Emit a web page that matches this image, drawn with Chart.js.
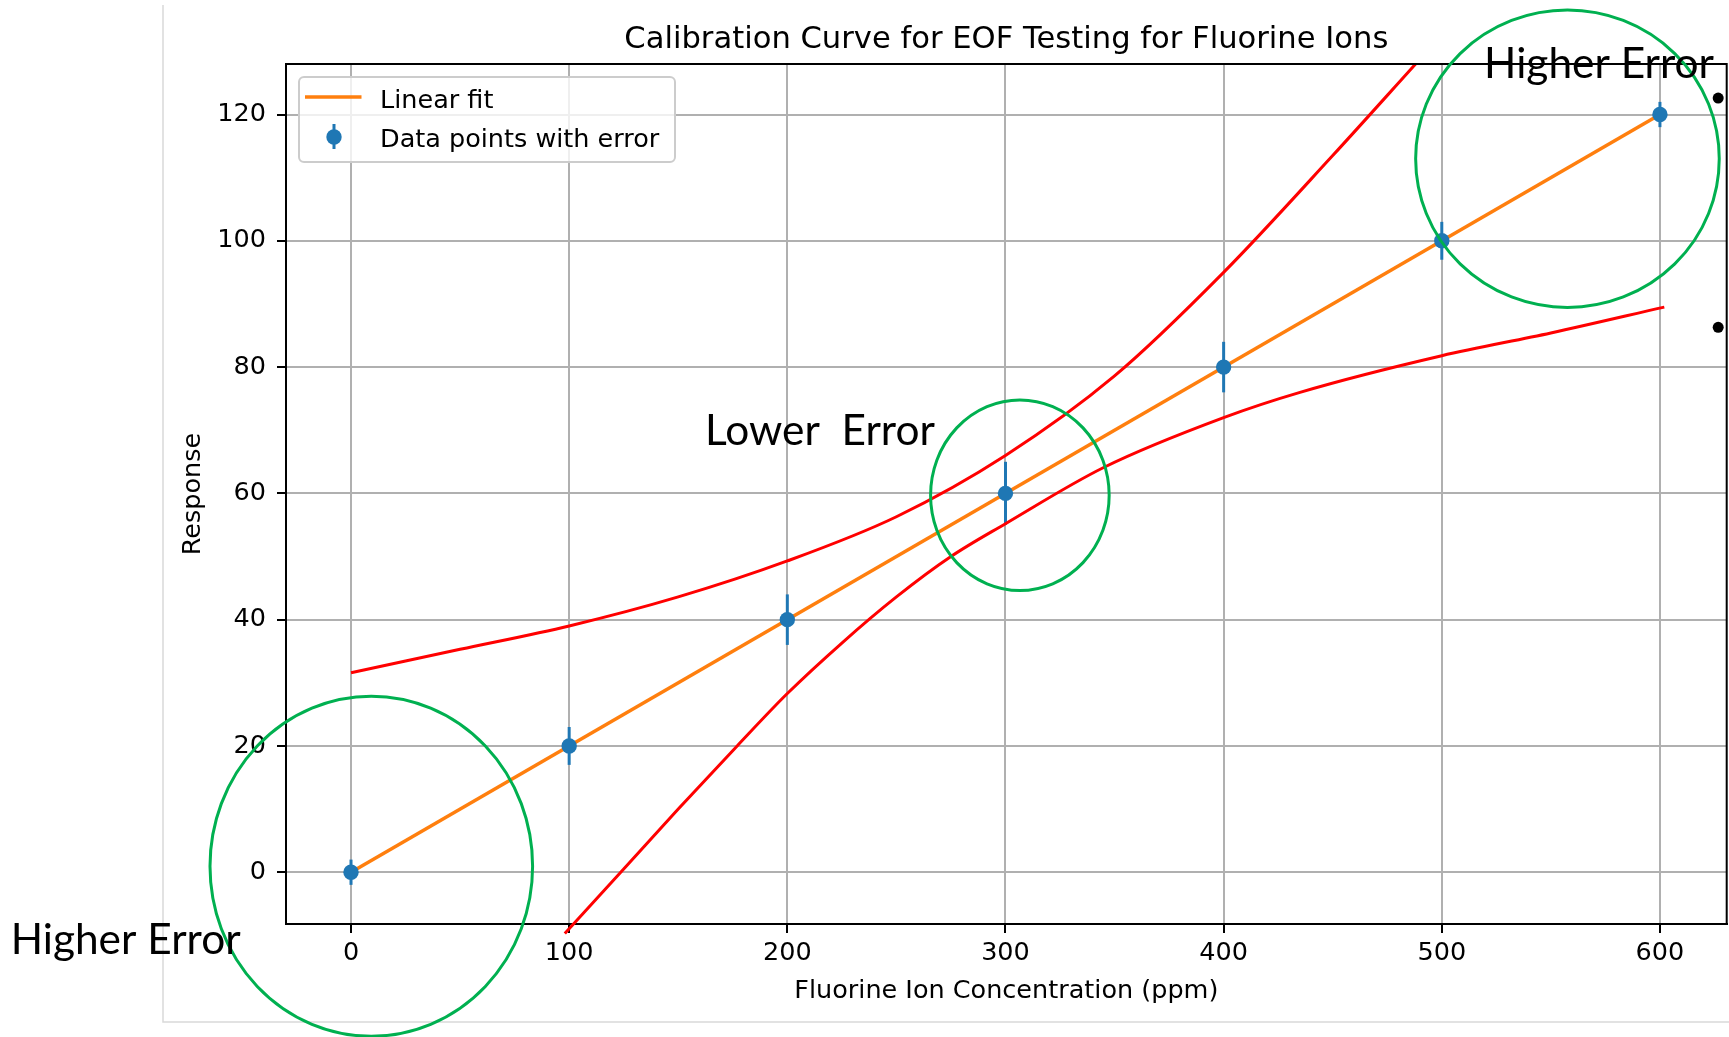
<!DOCTYPE html>
<html>
<head>
<meta charset="utf-8">
<title>Calibration Curve for EOF Testing for Fluorine Ions</title>
<script src="https://cdn.jsdelivr.net/npm/chart.js@4.4.1/dist/chart.umd.min.js"></script>
<style>
  html, body { margin: 0; padding: 0; background: #fff; overflow: hidden; }
  #wrap { width: 1729px; height: 1037px; }
</style>
</head>
<body>
<div id="wrap"><canvas id="chart" width="1729" height="1037"></canvas></div>
<script>
'use strict';

// ── Data ──────────────────────────────────────────────────────────────────────
const concentration = [0, 100, 200, 300, 400, 500, 600];      // ppm
const response      = [0, 20, 40, 60, 80, 100, 120];
const responseErr   = [2, 3, 4, 5, 4, 3, 2];

const fitX = [0, 600];
const fitY = [0, 120];

// hand-drawn red envelope curves
const upperX = [0, 50, 100, 150, 200, 250, 300, 350, 400, 450, 488];
const upperY = [31.6, 35.3, 39.0, 43.6, 49.3, 56.3, 66.0, 78.6, 95.0, 113.5, 128.0];
const lowerX = [98, 125, 150, 177, 200, 225, 250, 275, 300, 345, 400, 435, 500, 550, 602];
const lowerY = [-9.7, 0.5, 10.0, 20.0, 28.3, 36.3, 43.6, 50.0, 55.2, 64.1, 72.0, 76.0, 81.8, 85.4, 89.5];

// green circle centres and note anchors (data units)
const circleX = [9.3, 306.6, 557.6];
const circleY = [0.95, 59.7, 113.0];
const noteText = ['Higher Error', 'Lower  Error', 'Higher Error'];
const noteX = [-156, 162.3, 519.4];
const noteY = [-13.0, 67.6, 125.8];

// stray bullet points at the right edge
const bulletX = [626.7, 626.7];
const bulletY = [122.6, 86.3];

const xTicks = [0, 100, 200, 300, 400, 500, 600];
const yTicks = [0, 20, 40, 60, 80, 100, 120];

const TITLE  = 'Calibration Curve for EOF Testing for Fluorine Ions';
const XLABEL = 'Fluorine Ion Concentration (ppm)';
const YLABEL = 'Response';

// ── Style ─────────────────────────────────────────────────────────────────────
const BLUE   = '#1f77b4';
const ORANGE = '#ff7f0e';
const RED    = '#ff0000';
const GREEN  = '#00b050';
const FONT   = "'DejaVu Sans', sans-serif";
const FS     = 25.5;
const circleR = [[161.3, 170], [89.3, 95.3], [151.8, 148.7]];

const pts = (xs, ys) => xs.map((x, i) => ({ x, y: ys[i] }));

// ── Plugins ───────────────────────────────────────────────────────────────────
const pageFrame = {
  id: 'pageFrame',
  beforeDraw(chart) {
    const { ctx, width, height } = chart;
    ctx.save();
    ctx.strokeStyle = '#d9d9d9';
    ctx.lineWidth = 1.5;
    ctx.beginPath();
    ctx.moveTo(163, 5);
    ctx.lineTo(163, height - 15);
    ctx.lineTo(width, height - 15);
    ctx.stroke();
    ctx.restore();
  }
};

const errorBars = {
  id: 'errorBars',
  beforeDatasetDraw(chart, args) {
    if (args.index !== 1) return;
    const { ctx, scales: { x, y } } = chart;
    ctx.save();
    ctx.strokeStyle = BLUE;
    ctx.lineWidth = 3;
    concentration.forEach((c, i) => {
      const px = x.getPixelForValue(c);
      ctx.beginPath();
      ctx.moveTo(px, y.getPixelForValue(response[i] - responseErr[i]));
      ctx.lineTo(px, y.getPixelForValue(response[i] + responseErr[i]));
      ctx.stroke();
    });
    ctx.restore();
  }
};

const axesBox = {
  id: 'axesBox',
  afterDatasetsDraw(chart) {
    const { ctx, chartArea: a } = chart;
    ctx.save();
    ctx.strokeStyle = '#000';
    ctx.lineWidth = 2;
    ctx.beginPath();
    ctx.moveTo(a.left - 1, a.top);
    ctx.lineTo(a.right, a.top);
    ctx.lineTo(a.right, a.bottom + 1);
    ctx.stroke();

    // legend
    const ds = chart.data.datasets;
    const L = a.left + 13, T = a.top + 13;
    ctx.beginPath();
    ctx.roundRect(L, T, 376, 85, 5);
    ctx.fillStyle = 'rgba(255,255,255,0.8)';
    ctx.fill();
    ctx.strokeStyle = '#cccccc';
    ctx.lineWidth = 2;
    ctx.stroke();

    ctx.strokeStyle = ORANGE;
    ctx.lineWidth = 3.5;
    ctx.beginPath();
    ctx.moveTo(L + 6, T + 20);
    ctx.lineTo(L + 62.5, T + 20);
    ctx.stroke();

    ctx.strokeStyle = BLUE;
    ctx.lineWidth = 3;
    ctx.beginPath();
    ctx.moveTo(L + 35, T + 47);
    ctx.lineTo(L + 35, T + 72);
    ctx.stroke();
    ctx.fillStyle = BLUE;
    ctx.beginPath();
    ctx.arc(L + 35, T + 60, 7.7, 0, Math.PI * 2);
    ctx.fill();

    ctx.fillStyle = '#000';
    ctx.font = `${ FS }px ${ FONT }`;
    ctx.textBaseline = 'alphabetic';
    ctx.textAlign = 'left';
    ctx.fillText(ds[0].label, L + 81, T + 31);
    ctx.fillText(ds[1].label, L + 81, T + 69.5);
    ctx.restore();
  }
};

const notes = {
  id: 'notes',
  afterDraw(chart) {
    const { ctx, chartArea: a, scales: { x, y } } = chart;
    ctx.save();

    // title
    ctx.fillStyle = '#000';
    ctx.font = `${ FS * 1.2 }px ${ FONT }`;
    ctx.textAlign = 'center';
    ctx.textBaseline = 'middle';
    ctx.fillText(TITLE, (a.left + a.right) / 2, 40.5);

    // green circles
    ctx.strokeStyle = GREEN;
    ctx.lineWidth = 3;
    circleX.forEach((cx, i) => {
      ctx.beginPath();
      ctx.ellipse(x.getPixelForValue(cx), y.getPixelForValue(circleY[i]),
                  circleR[i][0], circleR[i][1], 0, 0, Math.PI * 2);
      ctx.stroke();
    });

    // callout text, sized so "Higher Error" is ~230px wide
    ctx.font = '100px Lato';
    const size = 100 * 230 / ctx.measureText('Higher Error').width;
    ctx.font = `${ size }px Lato`;
    ctx.textAlign = 'left';
    ctx.textBaseline = 'alphabetic';
    ctx.fillStyle = '#000';
    noteText.forEach((t, i) => {
      ctx.fillText(t, x.getPixelForValue(noteX[i]), y.getPixelForValue(noteY[i]));
    });
    ctx.restore();
  }
};

// ── Chart ─────────────────────────────────────────────────────────────────────
function initChart() {
  Chart.defaults.font.family = FONT;
  Chart.defaults.color = '#000';

  const axisCommon = {
    type: 'linear',
    grid:   { color: '#b0b0b0', lineWidth: 2, tickLength: 9, tickColor: '#000', tickWidth: 2 },
    border: { color: '#000', width: 2 },
  };

  new Chart(document.getElementById('chart'), {
    type: 'scatter',
    data: {
      datasets: [
        {
          label: 'Linear fit',
          data: pts(fitX, fitY),
          showLine: true,
          borderColor: ORANGE,
          borderWidth: 3.5,
          pointRadius: 0,
          order: 5,
        },
        {
          label: 'Data points with error',
          data: pts(concentration, response),
          pointRadius: 7.7,
          pointBackgroundColor: BLUE,
          pointBorderWidth: 0,
          order: 4,
        },
        {
          label: 'upper',
          data: pts(upperX, upperY),
          showLine: true,
          borderColor: RED,
          borderWidth: 3,
          pointRadius: 0,
          cubicInterpolationMode: 'monotone',
          clip: false,
          order: 2,
        },
        {
          label: 'lower',
          data: pts(lowerX, lowerY),
          showLine: true,
          borderColor: RED,
          borderWidth: 3,
          pointRadius: 0,
          cubicInterpolationMode: 'monotone',
          clip: false,
          order: 2,
        },
        {
          label: 'bullets',
          data: pts(bulletX, bulletY),
          pointRadius: 5.5,
          pointBackgroundColor: '#000',
          pointBorderWidth: 0,
          clip: false,
          order: 1,
        },
      ]
    },
    options: {
      responsive: false,
      devicePixelRatio: 1,
      animation: false,
      events: [],
      layout: { autoPadding: false, padding: { top: 64, right: 2.3, bottom: 0, left: 0 } },
      plugins: {
        legend:  { display: false },
        tooltip: { enabled: false },
      },
      scales: {
        x: {
          ...axisCommon,
          position: 'bottom',
          min: -29.8,
          max: 630.6,
          afterBuildTicks: s => { s.ticks = xTicks.map(v => ({ value: v })); },
          afterFit: s => { s.height = 113; s.paddingLeft = 0; s.paddingRight = 0; },
          ticks: { font: { size: FS }, padding: 5, maxRotation: 0 },
          title: { display: true, text: XLABEL, font: { size: FS }, padding: { top: 0, bottom: 30 } },
        },
        y: {
          ...axisCommon,
          position: 'left',
          min: -8.2,
          max: 128,
          afterBuildTicks: s => { s.ticks = yTicks.map(v => ({ value: v })); },
          afterFit: s => { s.width = 286; },
          ticks: { font: { size: FS }, padding: 11 },
          title: { display: true, text: YLABEL, font: { size: FS }, padding: { top: 178, bottom: 0 } },
        },
      },
    },
    plugins: [pageFrame, errorBars, axesBox, notes],
  });
}

// ── Boot ──────────────────────────────────────────────────────────────────────
Promise.all([
  document.fonts.load(`${ FS }px 'DejaVu Sans'`),
  document.fonts.load('40px Lato'),
]).catch(() => {}).then(initChart);
</script>
</body>
</html>
